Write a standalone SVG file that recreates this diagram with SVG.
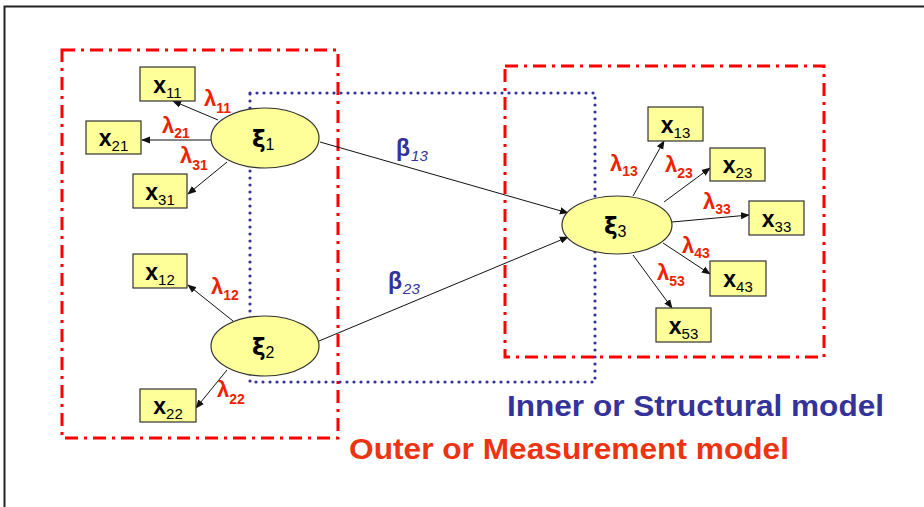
<svg xmlns="http://www.w3.org/2000/svg" width="924" height="507" viewBox="0 0 924 507">
<style>
.frame{fill:none;stroke:#222;stroke-width:2}
.outer{fill:none;stroke:#ff0000;stroke-width:3;stroke-dasharray:13 6 3 6}
.inner{fill:none;stroke:#333399;stroke-width:3.2;stroke-dasharray:0 7;stroke-linecap:round}
.box{fill:#ffff99;stroke:#333;stroke-width:1.2}
.lv{fill:#ffff99;stroke:#333;stroke-width:1.2}
.edge{fill:none;stroke:#111;stroke-width:1;marker-end:url(#ah)}
.xt{font-family:"Liberation Sans",Arial,sans-serif;font-size:23px;font-weight:bold;fill:#000}
.xs{font-size:15px;font-weight:normal}
.lam{font-family:"Liberation Sans",Arial,sans-serif;font-size:22px;font-weight:bold;fill:#ee2200}
.ls{font-size:14px}
.beta{font-family:"Liberation Sans",Arial,sans-serif;font-size:23px;font-weight:bold;fill:#333399}
.bs{font-size:15px;font-weight:normal;font-style:italic}
.xi{font-family:"DejaVu Sans","Liberation Sans",sans-serif;font-size:23px;font-weight:bold;fill:#000}
.xis{font-family:"Liberation Sans",Arial,sans-serif;font-size:16px;font-weight:normal}
.cap{font-family:"Liberation Sans",Arial,sans-serif;font-size:29px;font-weight:bold}
</style>
<defs>
<marker id="ah" viewBox="0 0 10 10" refX="9" refY="5" markerWidth="9" markerHeight="9" markerUnits="userSpaceOnUse" orient="auto">
<path d="M0,1 L10,5 L0,9 z" fill="#111"/>
</marker>
</defs>
<rect width="924" height="507" fill="#fff"/>
<path class="frame" d="M4.5,507 V6.5 H924"/>

<g id="outer-left"><rect class="outer" x="62" y="50" width="276" height="388"/></g>
<g id="outer-right"><rect class="outer" x="505" y="66" width="319" height="291"/></g>
<g id="inner-box"><rect class="inner" x="250" y="93" width="345" height="289"/></g>

<g id="connectors">
<line class="edge" x1="218" y1="120" x2="173" y2="101"/>
<line class="edge" x1="211" y1="140" x2="142" y2="140"/>
<line class="edge" x1="227" y1="162" x2="188" y2="194"/>
<line class="edge" x1="233" y1="321" x2="188" y2="285"/>
<line class="edge" x1="227" y1="370" x2="196" y2="408"/>
<line class="edge" x1="633" y1="196" x2="664" y2="141"/>
<line class="edge" x1="664" y1="202" x2="710" y2="168"/>
<line class="edge" x1="672" y1="222" x2="749" y2="215"/>
<line class="edge" x1="663" y1="243" x2="710" y2="274"/>
<line class="edge" x1="633" y1="255" x2="672" y2="308"/>
<line class="edge" x1="320" y1="142" x2="568" y2="213"/>
<line class="edge" x1="319" y1="341" x2="568" y2="237"/>
</g>

<g id="xi1"><ellipse class="lv" cx="265" cy="138" rx="54" ry="30"/><text class="xi" x="252" y="147">ξ<tspan class="xis" dy="3">1</tspan></text></g>
<g id="xi2"><ellipse class="lv" cx="265" cy="346" rx="54" ry="30"/><text class="xi" x="252" y="355">ξ<tspan class="xis" dy="3">2</tspan></text></g>
<g id="xi3"><ellipse class="lv" cx="617" cy="225" rx="55" ry="29"/><text class="xi" x="604" y="234">ξ<tspan class="xis" dy="3">3</tspan></text></g>

<g id="x11"><rect class="box" x="140" y="67" width="55" height="34"/><text class="xt" x="167.5" y="93" text-anchor="middle">x<tspan class="xs" dy="5">11</tspan></text></g>
<g id="x21"><rect class="box" x="86" y="121" width="55" height="33"/><text class="xt" x="113.5" y="146" text-anchor="middle">x<tspan class="xs" dy="5">21</tspan></text></g>
<g id="x31"><rect class="box" x="133" y="174" width="54" height="34"/><text class="xt" x="160" y="200" text-anchor="middle">x<tspan class="xs" dy="5">31</tspan></text></g>
<g id="x12"><rect class="box" x="133" y="254" width="54" height="34"/><text class="xt" x="160" y="280" text-anchor="middle">x<tspan class="xs" dy="5">12</tspan></text></g>
<g id="x22"><rect class="box" x="140" y="389" width="56" height="33"/><text class="xt" x="168" y="414" text-anchor="middle">x<tspan class="xs" dy="5">22</tspan></text></g>
<g id="x13"><rect class="box" x="648" y="107" width="55" height="34"/><text class="xt" x="675.5" y="133" text-anchor="middle">x<tspan class="xs" dy="5">13</tspan></text></g>
<g id="x23"><rect class="box" x="710" y="148" width="55" height="33"/><text class="xt" x="737.5" y="173" text-anchor="middle">x<tspan class="xs" dy="5">23</tspan></text></g>
<g id="x33"><rect class="box" x="749" y="201" width="55" height="34"/><text class="xt" x="776.5" y="227" text-anchor="middle">x<tspan class="xs" dy="5">33</tspan></text></g>
<g id="x43"><rect class="box" x="710" y="261" width="56" height="35"/><text class="xt" x="738" y="287" text-anchor="middle">x<tspan class="xs" dy="5">43</tspan></text></g>
<g id="x53"><rect class="box" x="656" y="308" width="55" height="34"/><text class="xt" x="683.5" y="334" text-anchor="middle">x<tspan class="xs" dy="5">53</tspan></text></g>

<g id="labels">
<text class="lam" x="204" y="106">λ<tspan class="ls" dy="7">11</tspan></text>
<text class="lam" x="162" y="133">λ<tspan class="ls" dy="5">21</tspan></text>
<text class="lam" x="180" y="163">λ<tspan class="ls" dy="7">31</tspan></text>
<text class="lam" x="211" y="294">λ<tspan class="ls" dy="6">12</tspan></text>
<text class="lam" x="217" y="397">λ<tspan class="ls" dy="7">22</tspan></text>
<text class="lam" x="610" y="171">λ<tspan class="ls" dy="5">13</tspan></text>
<text class="lam" x="665" y="172">λ<tspan class="ls" dy="6">23</tspan></text>
<text class="lam" x="703" y="209">λ<tspan class="ls" dy="5">33</tspan></text>
<text class="lam" x="682" y="253">λ<tspan class="ls" dy="5">43</tspan></text>
<text class="lam" x="657" y="280">λ<tspan class="ls" dy="6">53</tspan></text>
<text class="beta" x="396" y="156">β<tspan class="bs" dx="1" dy="5">13</tspan></text>
<text class="beta" x="388" y="289">β<tspan class="bs" dx="1" dy="5">23</tspan></text>
<text class="cap" x="507" y="416" fill="#333399" textLength="377" lengthAdjust="spacingAndGlyphs">Inner or Structural model</text>
<text class="cap" x="349" y="459" fill="#ee3311" textLength="440" lengthAdjust="spacingAndGlyphs">Outer or Measurement model</text>
</g>
</svg>
